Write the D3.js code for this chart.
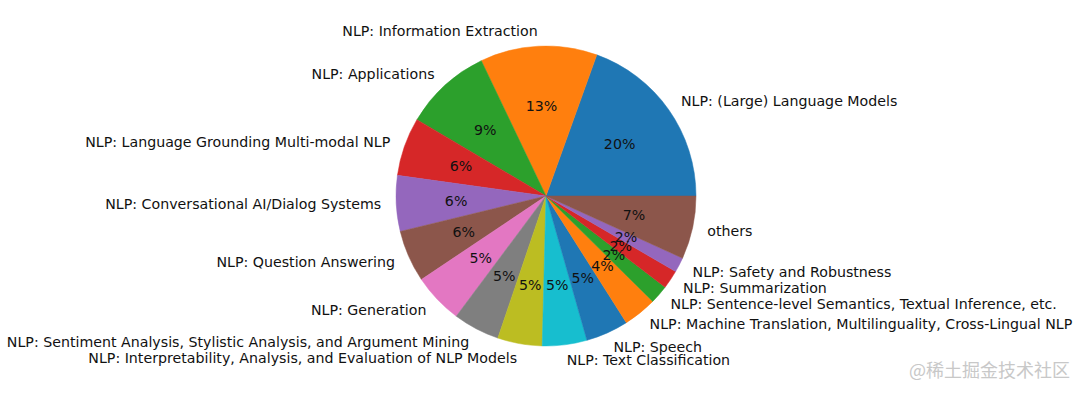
<!DOCTYPE html>
<html>
<head>
<meta charset="utf-8">
<script src="https://cdn.jsdelivr.net/npm/d3@7"></script>
<style>
  body { margin: 0; background: #fff; }
  svg text { font-family: "DejaVu Sans", sans-serif; }
</style>
</head>
<body>
<svg id="chart"></svg>
<script>
var categories = [
  "NLP: (Large) Language Models",
  "NLP: Information Extraction",
  "NLP: Applications",
  "NLP: Language Grounding Multi-modal NLP",
  "NLP: Conversational AI/Dialog Systems",
  "NLP: Question Answering",
  "NLP: Generation",
  "NLP: Sentiment Analysis, Stylistic Analysis, and Argument Mining",
  "NLP: Interpretability, Analysis, and Evaluation of NLP Models",
  "NLP: Text Classification",
  "NLP: Speech",
  "NLP: Machine Translation, Multilinguality, Cross-Lingual NLP",
  "NLP: Sentence-level Semantics, Textual Inference, etc.",
  "NLP: Summarization",
  "NLP: Safety and Robustness",
  "others"
];
var shares = [19.5, 12.6, 9.4, 6.3, 6.0, 5.6, 5.4, 5.0, 4.8, 4.8, 4.6, 3.6, 2.0, 2.0, 1.6, 6.8];
var palette = ["#1f77b4", "#ff7f0e", "#2ca02c", "#d62728", "#9467bd",
               "#8c564b", "#e377c2", "#7f7f7f", "#bcbd22", "#17becf"];

var width = 1080, height = 395;
var cx = 546, cy = 196, radius = 150;

var svg = d3.select("svg#chart")
    .attr("width", width)
    .attr("height", height);

var data = categories.map(function(c, i) { return {name: c, value: shares[i]}; });
var total = d3.sum(shares);

// matplotlib style: start at 3 o'clock, go counterclockwise
var pie = d3.pie()
    .sort(null)
    .value(function(d) { return d.value; })
    .startAngle(Math.PI / 2)
    .endAngle(Math.PI / 2 - 2 * Math.PI);

var arcs = pie(data);
var arc = d3.arc().innerRadius(0).outerRadius(radius);
var color = d3.scaleOrdinal().domain(d3.range(categories.length)).range(palette);

var g = svg.append("g").attr("transform", "translate(" + cx + "," + cy + ")");

g.selectAll("path.slice")
  .data(arcs)
  .enter().append("path")
    .attr("class", "slice")
    .attr("d", arc)
    .attr("fill", function(d, i) { return color(i); })
    .attr("stroke", function(d, i) { return color(i); })
    .attr("stroke-width", 0.5);

function polar(d, r) {
  var a = (d.startAngle + d.endAngle) / 2;
  return [Math.sin(a) * r, -Math.cos(a) * r];
}

// category labels
g.selectAll("text.label")
  .data(arcs)
  .enter().append("text")
    .attr("class", "label")
    .attr("x", function(d) { return polar(d, radius * 1.1)[0]; })
    .attr("y", function(d) { return polar(d, radius * 1.1)[1]; })
    .attr("dy", "0.35em")
    .attr("text-anchor", function(d) { return polar(d, 1)[0] > 0 ? "start" : "end"; })
    .style("font-size", "14.2px")
    .attr("fill", "#111")
    .text(function(d) { return d.data.name; });

// percentage labels
g.selectAll("text.pct")
  .data(arcs)
  .enter().append("text")
    .attr("class", "pct")
    .attr("x", function(d) { return polar(d, radius * 0.6)[0]; })
    .attr("y", function(d) { return polar(d, radius * 0.6)[1]; })
    .attr("dy", "0.35em")
    .attr("text-anchor", "middle")
    .style("font-size", "14.2px")
    .attr("fill", "#111")
    .text(function(d) { return d3.format(".0f")(d.data.value / total * 100) + "%"; });

// watermark
svg.append("text")
  .attr("x", 1070)
  .attr("y", 377)
  .attr("text-anchor", "end")
  .style("font-family", "'Noto Sans CJK SC', sans-serif")
  .style("font-size", "18px")
  .attr("fill", "#c8c8c8")
  .text("@稀土掘金技术社区");
</script>
</body>
</html>
